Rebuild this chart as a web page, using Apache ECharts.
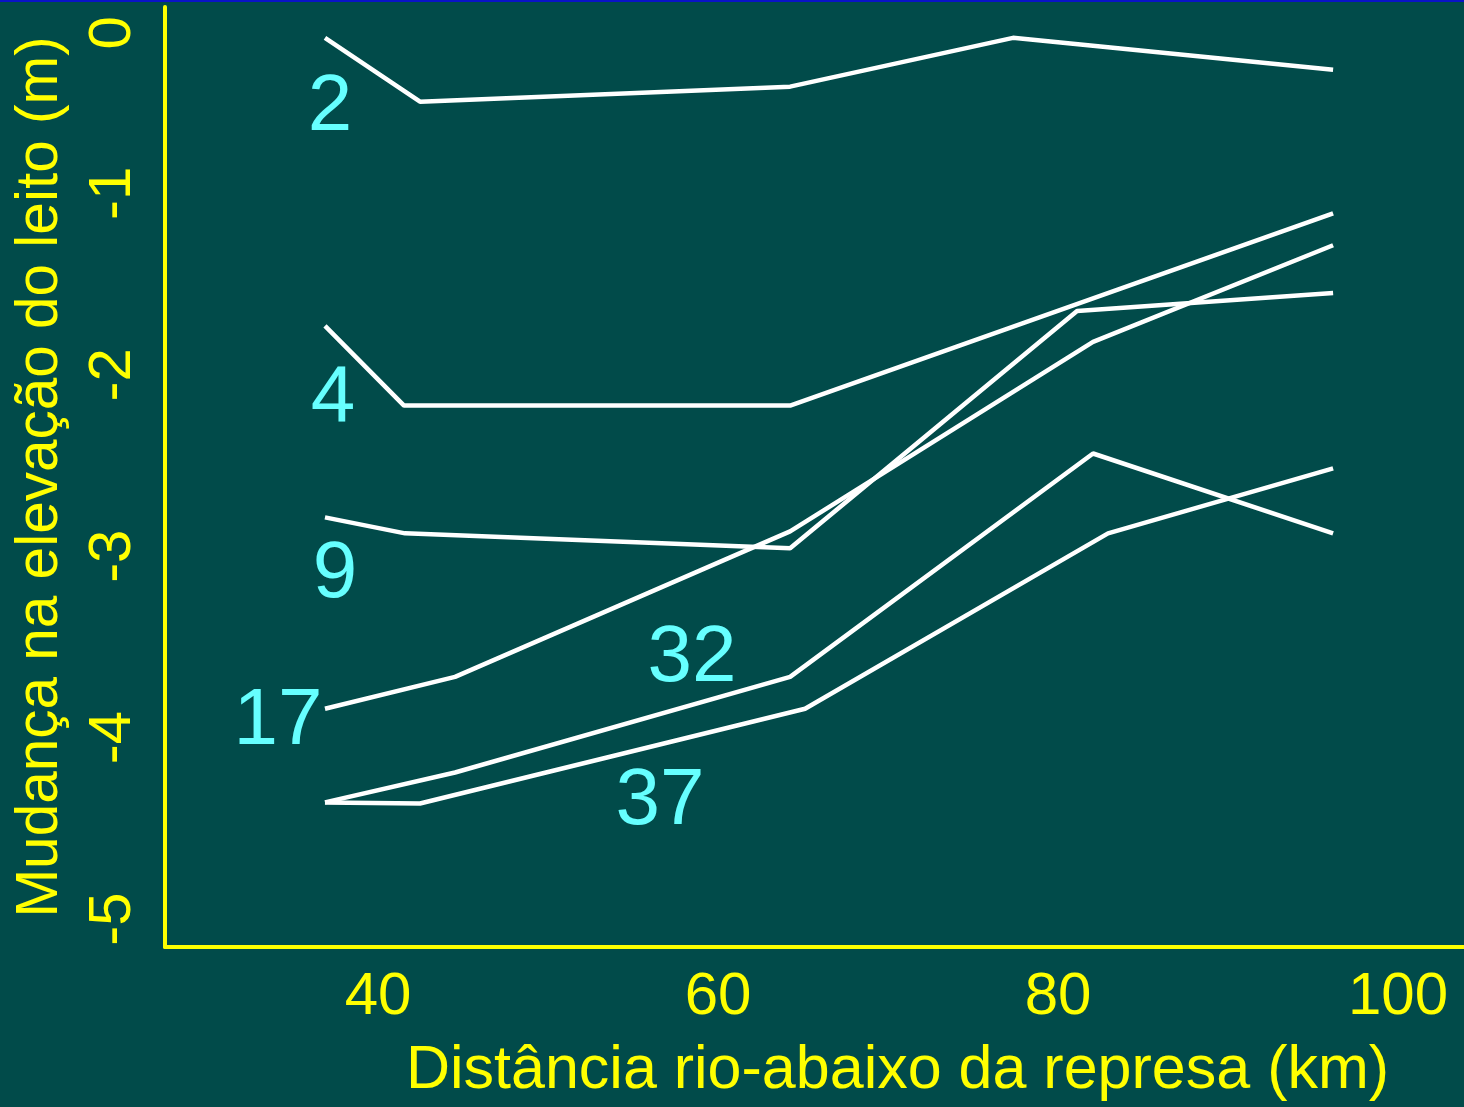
<!DOCTYPE html>
<html>
<head>
<meta charset="utf-8">
<script src="https://cdn.jsdelivr.net/npm/echarts@6/dist/echarts.min.js"></script>
<style>
  html, body { margin: 0; padding: 0; background: #014B4A; }
  #chart { width: 1464px; height: 1107px; }
</style>
</head>
<body>
<div id="chart"></div>
<script>
// ---- Data (distance downstream in km, bed elevation change in m) ----
const line2  = [[36.88, -0.143], [42.47, -0.495], [64.24, -0.412], [77.35, -0.143], [96.18, -0.319]];
const line4  = [[36.88, -1.731], [41.53, -2.170], [64.24, -2.170], [96.18, -1.110]];
const line9  = [[36.88, -2.786], [41.59, -2.874], [64.24, -2.956], [81.12, -1.648], [96.18, -1.549]];
const line17 = [[36.88, -3.841], [44.53, -3.665], [64.24, -2.863], [82.06, -1.819], [96.18, -1.286]];
const line32 = [[36.88, -4.357], [44.53, -4.192], [64.24, -3.665], [82.06, -2.434], [96.18, -2.874]];
const line37 = [[36.88, -4.357], [42.47, -4.363], [65.12, -3.841], [82.94, -2.874], [96.18, -2.516]];

const seriesNames = ['2', '4', '9', '17', '32', '37'];
const seriesData  = [line2, line4, line9, line17, line32, line37];

// label anchor points (data coordinates) for the year labels
const labelPoints = [
  [37.18, -0.527, '2'],
  [37.35, -2.132, '4'],
  [37.47, -3.104, '9'],
  [34.12, -3.912, '17'],
  [58.47, -3.566, '32'],
  [56.59, -4.352, '37']
];

const xTicks = [40, 60, 80, 100];
const yTicks = [0, -1, -2, -3, -4, -5];

const xName = 'Distância rio-abaixo da represa (km)';
const yName = 'Mudança na elevação do leito (m)';

const YELLOW = '#FFFF00';
const FONT = 'Liberation Sans, Arial, sans-serif';

const chart = echarts.init(document.getElementById('chart'), null, { renderer: 'canvas' });

const series = seriesData.map((d, i) => ({
  name: seriesNames[i],
  type: 'line',
  data: d,
  symbol: 'none',
  silent: true,
  lineStyle: { color: '#FFFFFF', width: 4.5 },
  z: 3
}));

series.push({
  type: 'scatter',
  data: labelPoints.map(p => ({ value: [p[0], p[1]], name: p[2] })),
  symbolSize: 0,
  silent: true,
  itemStyle: { opacity: 1 },
  label: {
    show: true,
    position: 'inside',
    formatter: p => p.name,
    color: '#66FFFF',
    opacity: 1,
    fontSize: 80,
    fontFamily: FONT,
    align: 'center',
    verticalAlign: 'middle'
  },
  z: 4
});

chart.setOption({
  backgroundColor: '#014B4A',
  animation: false,
  graphic: [{
    type: 'rect',
    shape: { x: 0, y: 0, width: 1464, height: 2 },
    style: { fill: '#0A14C8' },
    silent: true
  }],
  grid: { left: 165, right: 0, top: 7, bottom: 157, containLabel: false },
  xAxis: {
    type: 'value',
    min: 27.47,
    max: 103.88,
    name: xName,
    nameLocation: 'middle',
    nameGap: 94,
    nameTextStyle: { color: YELLOW, fontSize: 61, fontFamily: FONT, padding: [0, 0, 0, 166] },
    axisLine: { show: true, onZero: false, lineStyle: { color: YELLOW, width: 4 } },
    axisTick: { show: false },
    splitLine: { show: false },
    axisLabel: {
      customValues: xTicks,
      color: YELLOW,
      fontSize: 60,
      fontFamily: FONT,
      margin: 20
    }
  },
  yAxis: {
    type: 'value',
    min: -5.154,
    max: 0.027,
    name: yName,
    nameLocation: 'middle',
    nameGap: 95,
    nameRotate: 90,
    nameTextStyle: { color: YELLOW, fontSize: 58.5, fontFamily: FONT },
    axisLine: { show: true, onZero: false, lineStyle: { color: YELLOW, width: 4 } },
    axisTick: { show: false },
    splitLine: { show: false },
    axisLabel: {
      customValues: yTicks,
      rotate: 90,
      color: YELLOW,
      fontSize: 60,
      fontFamily: FONT,
      margin: 22,
      formatter: v => (v === 0 ? '{z|0}' : String(v)),
      rich: {
        z: { color: YELLOW, fontSize: 60, fontFamily: FONT, padding: [0, 42, 0, 0] }
      }
    }
  },
  series: series
});
</script>
</body>
</html>
